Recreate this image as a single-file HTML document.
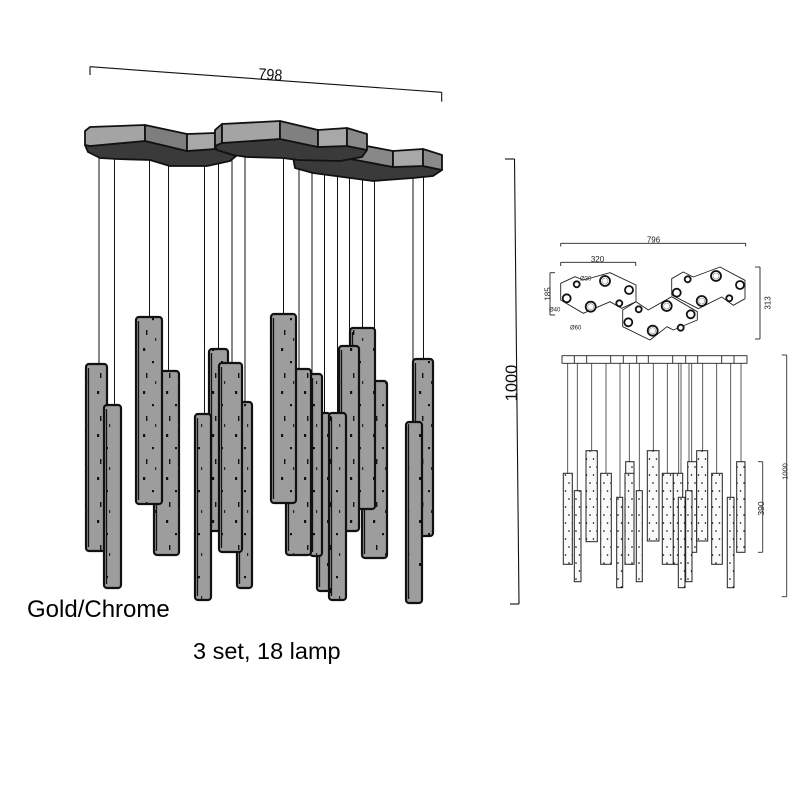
<!DOCTYPE html>
<html><head><meta charset="utf-8"><style>
html,body{margin:0;padding:0;background:#fff;}
svg{display:block;}
text{font-family:"Liberation Sans",sans-serif;}
</style></head><body>
<svg width="800" height="800" viewBox="0 0 800 800" xmlns="http://www.w3.org/2000/svg">
<defs>
<pattern id="sp" width="23" height="43" patternUnits="userSpaceOnUse">
<rect x="5" y="4" width="2.2" height="3" fill="#111"/>
<rect x="14" y="17" width="2" height="2.2" fill="#111"/>
<rect x="8" y="29" width="1.4" height="5" fill="#111"/>
<rect x="17" y="37" width="1.2" height="3" fill="#222"/>
</pattern>
<pattern id="dt" width="7" height="16" patternUnits="userSpaceOnUse">
<circle cx="2" cy="3" r="0.8" fill="#000"/>
<circle cx="5.5" cy="11" r="0.8" fill="#000"/>
</pattern>
</defs>
<rect width="800" height="800" fill="#fff"/>

<!-- 798 dimension -->
<g stroke="#111" stroke-width="1.1" fill="none">
<line x1="90" y1="66.7" x2="441.7" y2="92.3"/>
<line x1="90" y1="66.7" x2="90" y2="75"/>
<line x1="441.7" y1="92.3" x2="441.7" y2="101.7"/>
</g>
<text transform="translate(270,80) rotate(4)" font-size="16" text-anchor="middle" textLength="24" lengthAdjust="spacingAndGlyphs" fill="#111">798</text>

<!-- wires left -->
<g stroke="#111" stroke-width="1">
<line x1="99" y1="150" x2="99" y2="364"/>
<line x1="114.5" y1="150" x2="114.5" y2="405"/>
<line x1="149.5" y1="150" x2="149.5" y2="317"/>
<line x1="168.5" y1="150" x2="168.5" y2="371"/>
<line x1="204.5" y1="150" x2="204.5" y2="414"/>
<line x1="218.5" y1="150" x2="218.5" y2="349"/>
<line x1="232" y1="150" x2="232" y2="363"/>
<line x1="245" y1="150" x2="245" y2="402"/>
<line x1="283.5" y1="150" x2="283.5" y2="314"/>
<line x1="299" y1="150" x2="299" y2="369"/>
<line x1="312" y1="150" x2="312" y2="374"/>
<line x1="324.5" y1="150" x2="324.5" y2="413"/>
<line x1="337.5" y1="150" x2="337.5" y2="413"/>
<line x1="349.5" y1="150" x2="349.5" y2="346"/>
<line x1="362.5" y1="150" x2="362.5" y2="328"/>
<line x1="374.5" y1="150" x2="374.5" y2="381"/>
<line x1="413" y1="150" x2="413" y2="422"/>
<line x1="423.5" y1="150" x2="423.5" y2="359"/>
</g>

<!-- canopies -->
<g stroke="#111" stroke-width="1.8" stroke-linejoin="round">
<!-- C -->
<polygon points="293,157 340,157 393,167 423,166 442,170 433,176 413,178 373,181 313,173 295,168" fill="#3a3a3a"/>
<polygon points="340,141 393,151 393,167 340,157" fill="#888"/>
<polygon points="393,151 423,149 423,166 393,167" fill="#a8a8a8"/>
<polygon points="423,149 442,155 442,170 423,166" fill="#8a8a8a"/>
<!-- A -->
<polygon points="85,145 90,146 145,141 187,151 215,149 236,156 230,161 207,166 170,166 150,160 117,159 100,158 88,152" fill="#3a3a3a"/>
<polygon points="85,131 90,127 145,125 145,141 90,146 85,145" fill="#a4a4a4"/>
<polygon points="145,125 187,134 187,151 145,141" fill="#7e7e7e"/>
<polygon points="187,134 215,133 215,149 187,151" fill="#a8a8a8"/>
<!-- B -->
<polygon points="215,146 222,143 280,139 318,147 347,146 367,150 362,157 340,161 298,160 283,158 247,157 233,155 217,150" fill="#3a3a3a"/>
<polygon points="215,130 222,124 222,143 215,146" fill="#888"/>
<polygon points="222,124 280,121 280,139 222,143" fill="#a4a4a4"/>
<polygon points="280,121 318,130 318,147 280,139" fill="#808080"/>
<polygon points="318,130 347,128 347,146 318,147" fill="#a8a8a8"/>
<polygon points="347,128 367,134 367,150 347,146" fill="#8a8a8a"/>
</g>

<!-- left tubes -->
<g stroke="#111" stroke-width="2.2">
<rect x="86" y="364" width="21" height="187" rx="3" fill="#9d9d9d"/><rect x="86" y="364" width="21" height="187" fill="url(#sp)" stroke="none"/><line x1="88.5" y1="368" x2="88.5" y2="547" stroke-width="1.3"/>
<rect x="104" y="405" width="17" height="183" rx="3" fill="#9d9d9d"/><rect x="104" y="405" width="17" height="183" fill="url(#sp)" stroke="none"/><line x1="106.5" y1="409" x2="106.5" y2="584" stroke-width="1.3"/>
<rect x="154" y="371" width="25" height="184" rx="3" fill="#9d9d9d"/><rect x="154" y="371" width="25" height="184" fill="url(#sp)" stroke="none"/><line x1="156.5" y1="375" x2="156.5" y2="551" stroke-width="1.3"/>
<rect x="136" y="317" width="26" height="187" rx="3" fill="#9d9d9d"/><rect x="136" y="317" width="26" height="187" fill="url(#sp)" stroke="none"/><line x1="138.5" y1="321" x2="138.5" y2="500" stroke-width="1.3"/>
<rect x="209" y="349" width="19" height="182" rx="3" fill="#9d9d9d"/><rect x="209" y="349" width="19" height="182" fill="url(#sp)" stroke="none"/><line x1="211.5" y1="353" x2="211.5" y2="527" stroke-width="1.3"/>
<rect x="195" y="414" width="16" height="186" rx="3" fill="#9d9d9d"/><rect x="195" y="414" width="16" height="186" fill="url(#sp)" stroke="none"/><line x1="197.5" y1="418" x2="197.5" y2="596" stroke-width="1.3"/>
<rect x="237" y="402" width="15" height="186" rx="3" fill="#9d9d9d"/><rect x="237" y="402" width="15" height="186" fill="url(#sp)" stroke="none"/><line x1="239.5" y1="406" x2="239.5" y2="584" stroke-width="1.3"/>
<rect x="219" y="363" width="23" height="189" rx="3" fill="#9d9d9d"/><rect x="219" y="363" width="23" height="189" fill="url(#sp)" stroke="none"/><line x1="221.5" y1="367" x2="221.5" y2="548" stroke-width="1.3"/>
<rect x="362" y="381" width="25" height="177" rx="3" fill="#9d9d9d"/><rect x="362" y="381" width="25" height="177" fill="url(#sp)" stroke="none"/><line x1="364.5" y1="385" x2="364.5" y2="554" stroke-width="1.3"/>
<rect x="350" y="328" width="25" height="181" rx="3" fill="#9d9d9d"/><rect x="350" y="328" width="25" height="181" fill="url(#sp)" stroke="none"/><line x1="352.5" y1="332" x2="352.5" y2="505" stroke-width="1.3"/>
<rect x="339" y="346" width="20" height="185" rx="3" fill="#9d9d9d"/><rect x="339" y="346" width="20" height="185" fill="url(#sp)" stroke="none"/><line x1="341.5" y1="350" x2="341.5" y2="527" stroke-width="1.3"/>
<rect x="317" y="413" width="13" height="178" rx="3" fill="#9d9d9d"/><rect x="317" y="413" width="13" height="178" fill="url(#sp)" stroke="none"/><line x1="319.5" y1="417" x2="319.5" y2="587" stroke-width="1.3"/>
<rect x="329" y="413" width="17" height="187" rx="3" fill="#9d9d9d"/><rect x="329" y="413" width="17" height="187" fill="url(#sp)" stroke="none"/><line x1="331.5" y1="417" x2="331.5" y2="596" stroke-width="1.3"/>
<rect x="310" y="374" width="12" height="182" rx="3" fill="#9d9d9d"/><rect x="310" y="374" width="12" height="182" fill="url(#sp)" stroke="none"/><line x1="312.5" y1="378" x2="312.5" y2="552" stroke-width="1.3"/>
<rect x="286" y="369" width="25" height="186" rx="3" fill="#9d9d9d"/><rect x="286" y="369" width="25" height="186" fill="url(#sp)" stroke="none"/><line x1="288.5" y1="373" x2="288.5" y2="551" stroke-width="1.3"/>
<rect x="271" y="314" width="25" height="189" rx="3" fill="#9d9d9d"/><rect x="271" y="314" width="25" height="189" fill="url(#sp)" stroke="none"/><line x1="273.5" y1="318" x2="273.5" y2="499" stroke-width="1.3"/>
<rect x="413" y="359" width="20" height="177" rx="3" fill="#9d9d9d"/><rect x="413" y="359" width="20" height="177" fill="url(#sp)" stroke="none"/><line x1="415.5" y1="363" x2="415.5" y2="532" stroke-width="1.3"/>
<rect x="406" y="422" width="16" height="181" rx="3" fill="#9d9d9d"/><rect x="406" y="422" width="16" height="181" fill="url(#sp)" stroke="none"/><line x1="408.5" y1="426" x2="408.5" y2="599" stroke-width="1.3"/>
</g>

<!-- left 1000 dimension -->
<g stroke="#111" stroke-width="1.1" fill="none">
<line x1="514.5" y1="159" x2="519" y2="604"/>
<line x1="505" y1="159" x2="514.5" y2="159"/>
<line x1="510" y1="604" x2="519" y2="604"/>
</g>
<text transform="translate(517,383) rotate(-90)" font-size="16.5" text-anchor="middle" fill="#111">1000</text>

<!-- texts -->
<text x="27" y="617" font-size="24" fill="#000">Gold/Chrome</text>
<text x="193" y="659" font-size="23.5" fill="#000">3 set, 18 lamp</text>

<!-- plan view dims -->
<g stroke="#222" stroke-width="0.9" fill="none">
<line x1="560.7" y1="243.3" x2="745.7" y2="243.3"/>
<line x1="560.7" y1="243.3" x2="560.7" y2="246.5"/>
<line x1="745.7" y1="243.3" x2="745.7" y2="246.5"/>
<line x1="560.7" y1="262.3" x2="635.7" y2="262.3"/>
<line x1="560.7" y1="262.3" x2="560.7" y2="266"/>
<line x1="635.7" y1="262.3" x2="635.7" y2="266"/>
<line x1="550" y1="272.7" x2="550" y2="315"/>
<line x1="550" y1="272.7" x2="555" y2="272.7"/>
<line x1="550" y1="315" x2="555" y2="315"/>
<line x1="760" y1="267" x2="760" y2="339"/>
<line x1="755" y1="267" x2="760" y2="267"/>
<line x1="755" y1="339" x2="760" y2="339"/>
</g>
<g font-size="8" fill="#222" text-anchor="middle">
<text x="653.5" y="242.5">796</text>
<text x="597.5" y="262">320</text>
<text transform="translate(550.5,294) rotate(-90)">185</text>
<text transform="translate(770.5,303) rotate(-90)">313</text>
</g>
<g font-size="6" fill="#222">
<text x="580" y="280.5">Ø30</text>
<text x="549" y="311.5">Ø40</text>
<text x="570" y="329.5">Ø60</text>
</g>

<!-- plan outlines -->
<g stroke="#222" stroke-width="0.9" fill="none" stroke-linejoin="round">
<polygon points="560.7,283.3 575,276.7 583.3,280 610,272.7 636,285 636,301.7 621.7,308.3 610,301.7 583.3,313.3 560.7,300"/>
<polygon points="622.7,310 636,301.7 648.3,310 671.7,296.7 697.3,311.7 697.3,320 673.3,330 667,326.7 650,340 622.7,326.7"/>
<polygon points="671.7,278.7 683.3,272 693.3,277 720,267 745,280.3 745,298.7 733.3,305.3 721.7,297 698.3,308.7 671.7,295"/>
</g>
<g stroke="#111" stroke-width="1.8" fill="#fff">
<circle cx="576.7" cy="284.3" r="3"/>
<circle cx="605" cy="281" r="5"/>
<circle cx="629" cy="290" r="4"/>
<circle cx="566.7" cy="298.3" r="4"/>
<circle cx="590.7" cy="306.7" r="5"/>
<circle cx="619.3" cy="303.3" r="3"/>
<circle cx="638.7" cy="309.3" r="3"/>
<circle cx="666.7" cy="306" r="5"/>
<circle cx="690.7" cy="314.3" r="4"/>
<circle cx="628.3" cy="322.3" r="4"/>
<circle cx="652.7" cy="330.7" r="5"/>
<circle cx="680.7" cy="327.7" r="3"/>
<circle cx="687.7" cy="279.3" r="3"/>
<circle cx="716" cy="276" r="5"/>
<circle cx="740" cy="285" r="4"/>
<circle cx="676.7" cy="292.7" r="4"/>
<circle cx="701.7" cy="301" r="5"/>
<circle cx="729.3" cy="298.3" r="3"/>
</g>
<g stroke="#888" stroke-width="0.6" fill="none">
<circle cx="605" cy="281" r="3"/>
<circle cx="590.7" cy="306.7" r="3"/>
<circle cx="666.7" cy="306" r="3"/>
<circle cx="652.7" cy="330.7" r="3"/>
<circle cx="716" cy="276" r="3"/>
<circle cx="701.7" cy="301" r="3"/>
</g>

<!-- elevation -->
<g stroke="#222" stroke-width="0.9" fill="none">
<rect x="562" y="355.7" width="185" height="7.6" fill="#fff"/>
<line x1="574.3" y1="355.7" x2="574.3" y2="363.3"/>
<line x1="586.7" y1="355.7" x2="586.7" y2="363.3"/>
<line x1="610.7" y1="355.7" x2="610.7" y2="363.3"/>
<line x1="623.3" y1="355.7" x2="623.3" y2="363.3"/>
<line x1="636.7" y1="355.7" x2="636.7" y2="363.3"/>
<line x1="648.3" y1="355.7" x2="648.3" y2="363.3"/>
<line x1="672.7" y1="355.7" x2="672.7" y2="363.3"/>
<line x1="685.7" y1="355.7" x2="685.7" y2="363.3"/>
<line x1="697.7" y1="355.7" x2="697.7" y2="363.3"/>
<line x1="721.7" y1="355.7" x2="721.7" y2="363.3"/>
<line x1="734" y1="355.7" x2="734" y2="363.3"/>
</g>
<g stroke="#333" stroke-width="0.8">
<line x1="567.7" y1="363" x2="567.7" y2="473"/>
<line x1="577.3" y1="363" x2="577.3" y2="491"/>
<line x1="591.7" y1="363" x2="591.7" y2="451"/>
<line x1="606" y1="363" x2="606" y2="473"/>
<line x1="620" y1="363" x2="620" y2="497"/>
<line x1="629.3" y1="363" x2="629.3" y2="462"/>
<line x1="639.3" y1="363" x2="639.3" y2="491"/>
<line x1="653.3" y1="363" x2="653.3" y2="451"/>
<line x1="667.3" y1="363" x2="667.3" y2="473"/>
<line x1="678.7" y1="363" x2="678.7" y2="473"/>
<line x1="681" y1="363" x2="681" y2="497"/>
<line x1="689" y1="363" x2="689" y2="491"/>
<line x1="691.7" y1="363" x2="691.7" y2="462"/>
<line x1="702.7" y1="363" x2="702.7" y2="451"/>
<line x1="716.7" y1="363" x2="716.7" y2="473"/>
<line x1="730.7" y1="363" x2="730.7" y2="497"/>
<line x1="741" y1="363" x2="741" y2="462"/>
</g>
<g stroke="#222" stroke-width="1">
<rect x="563.3" y="473.3" width="9" height="91" fill="#fafafa"/><rect x="563.3" y="473.3" width="9" height="91" fill="url(#dt)" stroke="none"/>
<rect x="574.3" y="490.7" width="6.7" height="91" fill="#fafafa"/><rect x="574.3" y="490.7" width="6.7" height="91" fill="url(#dt)" stroke="none"/>
<rect x="586" y="450.7" width="11.3" height="91" fill="#fafafa"/><rect x="586" y="450.7" width="11.3" height="91" fill="url(#dt)" stroke="none"/>
<rect x="600.7" y="473.3" width="10.6" height="91" fill="#fafafa"/><rect x="600.7" y="473.3" width="10.6" height="91" fill="url(#dt)" stroke="none"/>
<rect x="616.7" y="497.3" width="6" height="90.4" fill="#fafafa"/><rect x="616.7" y="497.3" width="6" height="90.4" fill="url(#dt)" stroke="none"/>
<rect x="625.7" y="461.7" width="8.3" height="90.6" fill="#fafafa"/><rect x="625.7" y="461.7" width="8.3" height="90.6" fill="url(#dt)" stroke="none"/>
<rect x="625" y="473.3" width="9" height="91" fill="#fafafa"/><rect x="625" y="473.3" width="9" height="91" fill="url(#dt)" stroke="none"/>
<rect x="636.3" y="490.7" width="6" height="91" fill="#fafafa"/><rect x="636.3" y="490.7" width="6" height="91" fill="url(#dt)" stroke="none"/>
<rect x="647.3" y="450.7" width="11.7" height="90.3" fill="#fafafa"/><rect x="647.3" y="450.7" width="11.7" height="90.3" fill="url(#dt)" stroke="none"/>
<rect x="662.3" y="473.3" width="11" height="91" fill="#fafafa"/><rect x="662.3" y="473.3" width="11" height="91" fill="url(#dt)" stroke="none"/>
<rect x="673.3" y="473.3" width="9.4" height="91" fill="#fafafa"/><rect x="673.3" y="473.3" width="9.4" height="91" fill="url(#dt)" stroke="none"/>
<rect x="678.3" y="497.3" width="6.7" height="90.4" fill="#fafafa"/><rect x="678.3" y="497.3" width="6.7" height="90.4" fill="url(#dt)" stroke="none"/>
<rect x="687.7" y="461.7" width="9" height="90.6" fill="#fafafa"/><rect x="687.7" y="461.7" width="9" height="90.6" fill="url(#dt)" stroke="none"/>
<rect x="685.7" y="490.7" width="6.3" height="91" fill="#fafafa"/><rect x="685.7" y="490.7" width="6.3" height="91" fill="url(#dt)" stroke="none"/>
<rect x="696.7" y="450.7" width="11" height="90.3" fill="#fafafa"/><rect x="696.7" y="450.7" width="11" height="90.3" fill="url(#dt)" stroke="none"/>
<rect x="711.7" y="473.3" width="10.6" height="91" fill="#fafafa"/><rect x="711.7" y="473.3" width="10.6" height="91" fill="url(#dt)" stroke="none"/>
<rect x="727.3" y="497.3" width="6.7" height="90.4" fill="#fafafa"/><rect x="727.3" y="497.3" width="6.7" height="90.4" fill="url(#dt)" stroke="none"/>
<rect x="736.7" y="461.7" width="8.3" height="90.6" fill="#fafafa"/><rect x="736.7" y="461.7" width="8.3" height="90.6" fill="url(#dt)" stroke="none"/>
</g>

<!-- elevation dims -->
<g stroke="#333" stroke-width="0.9" fill="none">
<line x1="762.7" y1="461.7" x2="762.7" y2="552.3"/>
<line x1="758" y1="461.7" x2="762.7" y2="461.7"/>
<line x1="758" y1="552.3" x2="762.7" y2="552.3"/>
<line x1="786.7" y1="355" x2="786.7" y2="596.7"/>
<line x1="781.7" y1="355" x2="786.7" y2="355"/>
<line x1="781.7" y1="596.7" x2="786.7" y2="596.7"/>
</g>
<text transform="translate(764,508.5) rotate(-90)" font-size="8.5" text-anchor="middle" fill="#222">390</text>
<text transform="translate(787.5,471.5) rotate(-90)" font-size="7.5" text-anchor="middle" fill="#222">1000</text>
</svg>
</body></html>
